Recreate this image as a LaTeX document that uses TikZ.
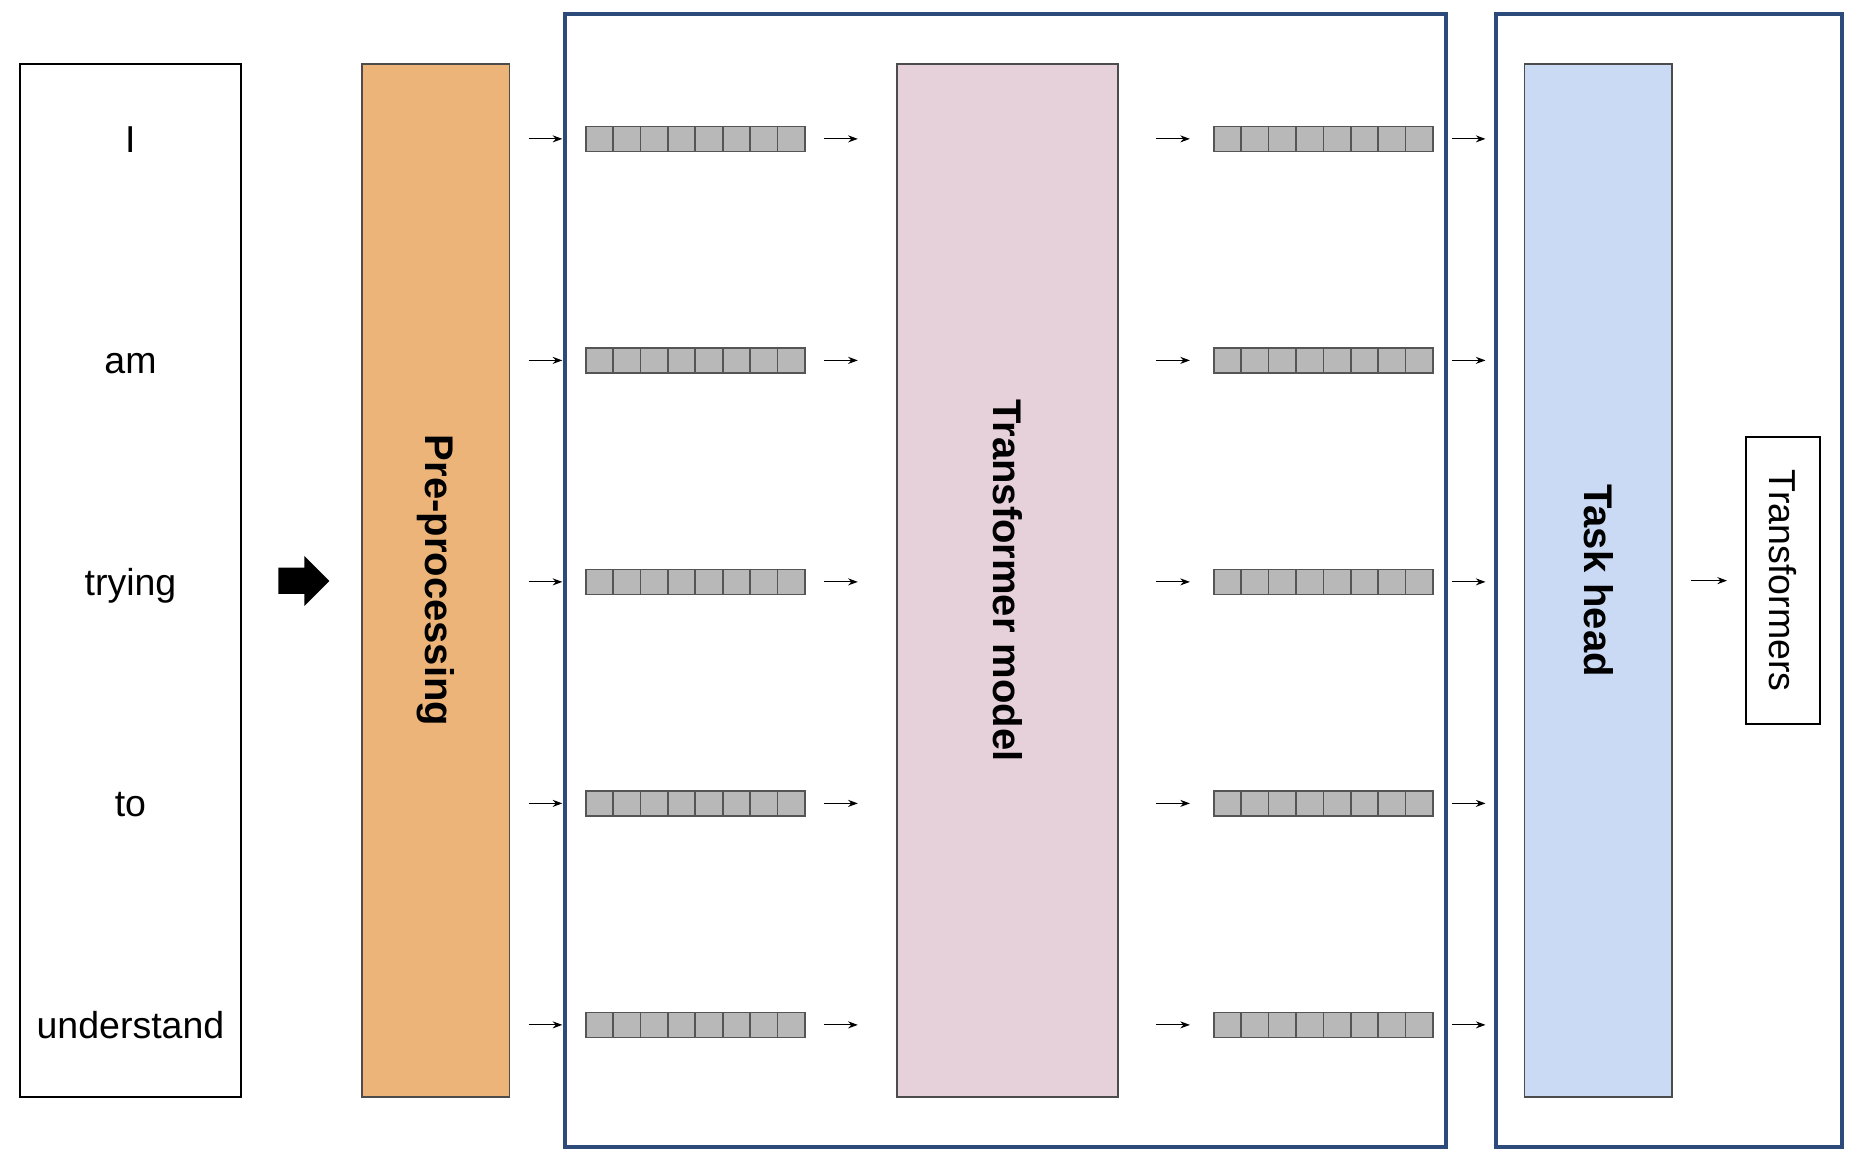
\documentclass[tikz,border=0pt]{standalone}
\usepackage{fontspec}
\setmainfont{Liberation Sans}
\usetikzlibrary{arrows.meta}
\definecolor{prepfill}{HTML}{ECB478}
\definecolor{modelfill}{HTML}{E6D1DB}
\definecolor{headfill}{HTML}{CBDAF4}
\definecolor{framecol}{HTML}{2C4A7A}
\definecolor{cellfill}{HTML}{B8B8B8}
\definecolor{cellline}{HTML}{555555}
\begin{document}
\begin{tikzpicture}[
	box/.style={draw=black!70,line width=0.8pt,inner sep=0pt,minimum height=20.658cm},
	frame/.style={draw=framecol,line width=2.2pt,inner sep=0pt,minimum height=22.666cm},
	cell/.style={draw=cellline,fill=cellfill,line width=1pt,inner sep=0pt,minimum width=0.548cm,minimum height=0.5cm},
	arr/.style={-{Stealth[length=5.5pt,width=4pt]},line width=0.6pt},
	word/.style={font=\fontsize{21.34}{25}\selectfont,inner sep=0pt,anchor=base},
	title/.style={font=\fontsize{22.76}{27}\selectfont\bfseries,rotate=-90,inner sep=0pt}
]
	\useasboundingbox (0,0) rectangle (37.28,23.24);
	% blocks
	\node[frame,minimum width=17.618cm](enc) at (20.105,11.633){};
	\node[frame,minimum width=6.92cm](task) at (33.372,11.633){};
	\node[box,draw=black,line width=1.1pt,minimum width=4.434cm](sent) at (2.609,11.629){};
	\node[box,fill=prepfill,minimum width=2.95cm](pre) at (8.715,11.629){};
	\node[box,fill=modelfill,minimum width=4.42cm](model) at (20.15,11.629){};
	\node[box,fill=headfill,minimum width=2.946cm](head) at (31.967,11.629){};
	\node[draw=black,line width=1.1pt,inner sep=0pt,minimum width=1.486cm,minimum height=5.734cm](out) at (35.663,11.627){};
	\node[title](pre-txt) at (pre){Pre-processing};
	\node[title](model-txt) at (model){Transformer model};
	\node[title](head-txt) at (head){Task head};
	\node[title,font=\fontsize{21.34}{25}\selectfont](out-txt) at (out){Transformers};
	% big arrow
	\fill[black] (5.566,11.886) -- (6.086,11.886) -- (6.086,12.12) -- (6.586,11.62) -- (6.086,11.12) -- (6.086,11.36) -- (5.566,11.36) -- cycle;
	% rows
	\foreach \r/\w in {1/I,2/am,3/trying,4/to,5/understand}{
		\pgfmathsetmacro{\y}{20.462-4.43*(\r-1)}
		\node[word](w\r) at (2.609,\y-0.27){\w};
		\foreach \k in {1,...,8}{
			\node[cell](tl\r-\k) at ({11.714+0.548*(\k-0.5)},\y){};
			\node[cell](tr\r-\k) at ({24.276+0.548*(\k-0.5)},\y){};
		}
		\draw[arr,shorten <=0.37cm,shorten >=0.45cm](pre.east |- tl\r-1)--(tl\r-1.west);
		\draw[arr,shorten <=0.37cm,shorten >=0.77cm](tl\r-8.east)--(model.west |- tl\r-8);
		\draw[arr,shorten <=0.75cm,shorten >=0.46cm](model.east |- tr\r-1)--(tr\r-1.west);
		\draw[arr,shorten <=0.36cm,shorten >=0.77cm](tr\r-8.east)--(head.west |- tr\r-8);
	}
	\draw[arr,shorten <=0.36cm,shorten >=0.36cm](head.east |- out)--(out.west);
\end{tikzpicture}
\end{document}
